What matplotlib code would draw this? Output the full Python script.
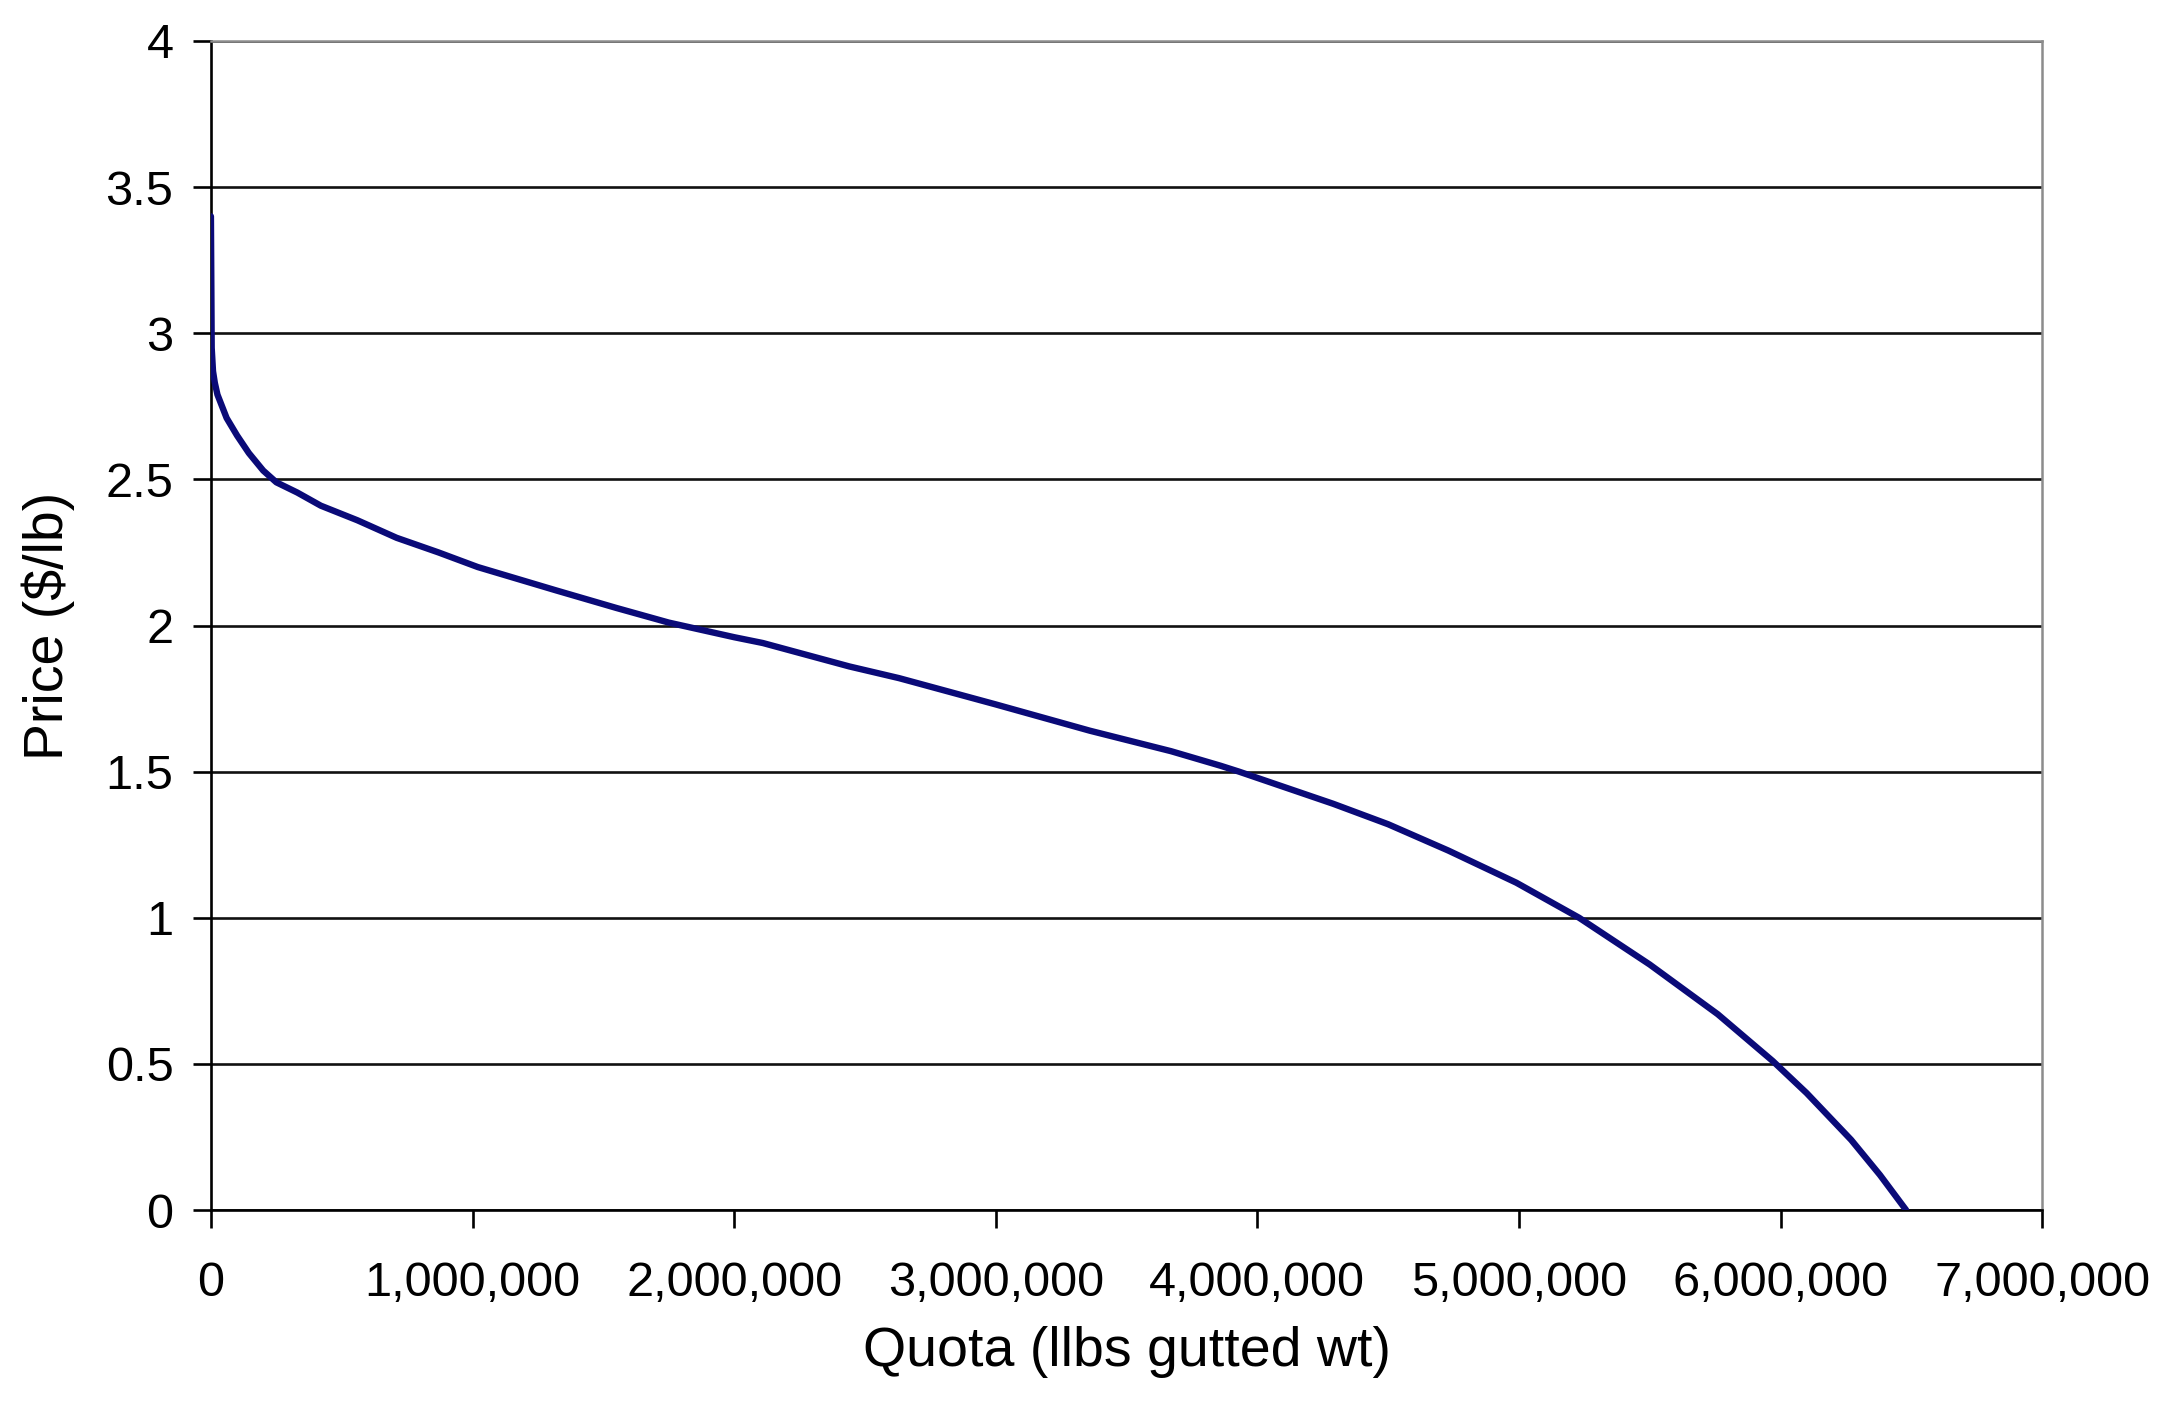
import matplotlib.pyplot as plt
from matplotlib.ticker import FuncFormatter, MultipleLocator

plt.rcParams['font.family'] = ['Liberation Sans', 'DejaVu Sans']

# quota supply curve (lbs gutted weight) against price ($/lb)
quota = [0, 3000, 8000, 15000, 25000, 60000, 100000, 145000, 200000, 250000,
         330000, 420000, 560000, 710000, 870000, 1020000, 1170000, 1320000,
         1550000, 1750000, 2000000, 2110000, 2440000, 2630000, 3000000,
         3360000, 3670000, 3860000, 3930000, 4290000, 4500000, 4730000,
         4990000, 5230000, 5500000, 5760000, 5970000, 6100000, 6270000,
         6380000, 6480000]
price = [3.40, 2.95, 2.87, 2.83, 2.79, 2.71, 2.65, 2.59, 2.53, 2.49,
         2.455, 2.41, 2.36, 2.30, 2.25, 2.20, 2.16, 2.12, 2.06, 2.01,
         1.96, 1.94, 1.86, 1.82, 1.73, 1.64, 1.57, 1.52, 1.50, 1.39,
         1.32, 1.23, 1.12, 1.00, 0.84, 0.67, 0.51, 0.40, 0.24,
         0.12, 0.0]

fig = plt.figure(figsize=(21.61, 14.08), dpi=100)
ax = fig.add_axes([0.0976, 0.1406, 0.8474, 0.8303])

ax.plot(quota, price, color='#0a0a78', lw=4.6, solid_joinstyle='round',
        solid_capstyle='round', zorder=3)

ax.set_xlim(0, 7000000)
ax.set_ylim(0, 4)
ax.xaxis.set_major_locator(MultipleLocator(1000000))
ax.yaxis.set_major_locator(MultipleLocator(0.5))
ax.xaxis.set_major_formatter(FuncFormatter(lambda v, p: '{:,.0f}'.format(v)))
ax.yaxis.set_major_formatter(FuncFormatter(lambda v, p: '{:g}'.format(v)))

ax.grid(axis='y', color='#111111', lw=1.9, zorder=1)
ax.set_axisbelow(True)

for side in ('left', 'bottom'):
    ax.spines[side].set_color('black')
    ax.spines[side].set_linewidth(1.9)
for side in ('top', 'right'):
    ax.spines[side].set_color('#8c8c8c')
    ax.spines[side].set_linewidth(1.8)

ax.tick_params(axis='both', direction='out', length=13, width=1.9,
               color='black', labelsize=35)
ax.tick_params(axis='y', pad=14)
ax.tick_params(axis='x', pad=24)

ax.set_xlabel('Quota (llbs gutted wt)', fontsize=40, labelpad=14)
ax.set_ylabel(r'Price (\$/lb)', fontsize=40, labelpad=22)

fig.savefig('out.png', dpi=100, facecolor='white')
